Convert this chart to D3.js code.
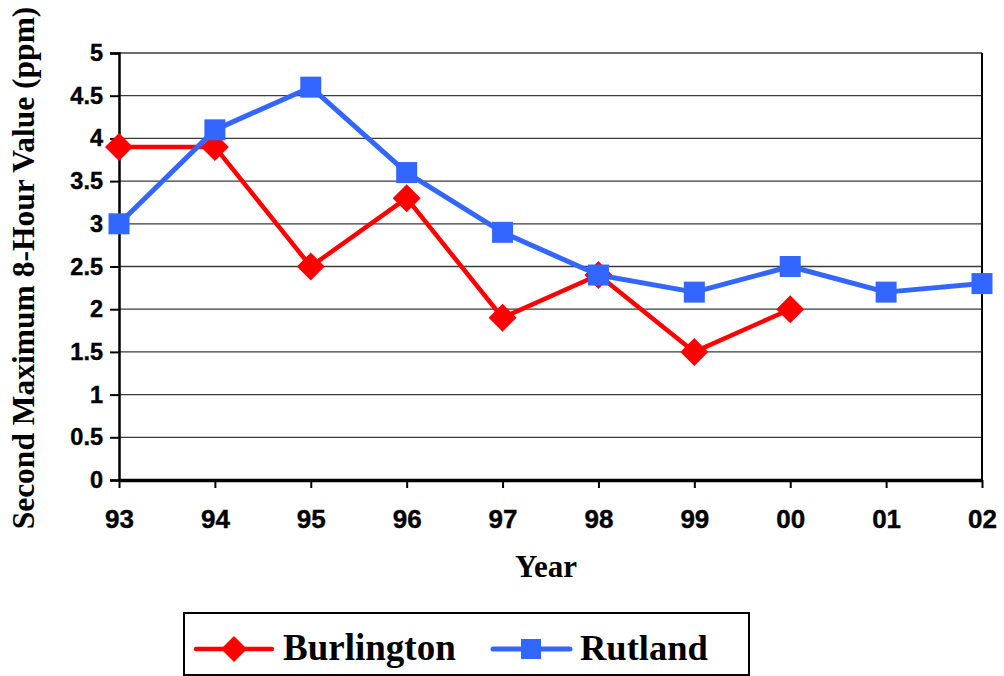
<!DOCTYPE html>
<html><head><meta charset="utf-8">
<script src="https://cdn.jsdelivr.net/npm/d3@7"></script>
<style>body{margin:0;background:#fff}svg{display:block}</style>
</head><body>
<svg id="c" width="1004" height="676"></svg>
<script>
const years = ["93","94","95","96","97","98","99","00","01","02"];
const burlington = [3.9,3.9,2.5,3.3,1.9,2.4,1.5,2.0];
const rutland = [3.0,4.1,4.6,3.6,2.9,2.4,2.2,2.5,2.2,2.3];
const yTicks = [0,0.5,1,1.5,2,2.5,3,3.5,4,4.5,5];
const seriesNames = ["Burlington","Rutland"];

const svg = d3.select("#c");
const x = d3.scalePoint().domain(years).range([119, 982]);
const y = d3.scaleLinear().domain([0,5]).range([480, 53]);
const sans = "'Liberation Sans', Arial, sans-serif";
const serif = "'Liberation Serif', 'Times New Roman', serif";

// gridlines
svg.append("g").selectAll("line").data(yTicks.filter(d=>d>0)).join("line")
  .attr("x1", 119).attr("x2", 982)
  .attr("y1", d=>y(d)).attr("y2", d=>y(d))
  .attr("stroke", "#3a3a3a").attr("stroke-width", 1.3);
// right border
svg.append("line").attr("x1",982).attr("x2",982).attr("y1",y(5)).attr("y2",y(0))
  .attr("stroke","#000").attr("stroke-width",2);

// y axis
const ya = svg.append("g").attr("transform","translate(119,0)")
  .call(d3.axisLeft(y).tickValues(yTicks).tickSize(9).tickPadding(7).tickFormat(d=>d));
ya.select(".domain").attr("stroke","#000").attr("stroke-width",2.5);
ya.selectAll(".tick line").attr("stroke","#000").attr("stroke-width",2);
ya.selectAll("text").attr("font-family",sans).attr("font-weight","bold").attr("font-size",23.5)
  .attr("fill","#000").attr("stroke","#000").attr("stroke-width",0.4);

// x axis
const xa = svg.append("g").attr("transform","translate(0,480)")
  .call(d3.axisBottom(x).tickSize(8).tickSizeOuter(0).tickPadding(22));
xa.select(".domain").attr("stroke","#000").attr("stroke-width",3.5);
xa.selectAll(".tick line").attr("stroke","#000").attr("stroke-width",2);
xa.selectAll("text").attr("font-family",sans).attr("font-weight","bold").attr("font-size",26)
  .attr("fill","#000").attr("stroke","#000").attr("stroke-width",0.4);

// titles
svg.append("text").attr("transform","translate(34,268) rotate(-90)")
  .attr("text-anchor","middle").attr("font-family",serif).attr("font-weight","bold")
  .attr("font-size",31.5).text("Second Maximum 8-Hour Value (ppm)");
svg.append("text").attr("x",546).attr("y",577)
  .attr("text-anchor","middle").attr("font-family",serif).attr("font-weight","bold")
  .attr("font-size",31).text("Year");

const line = d3.line().x((d,i)=>x(years[i])).y(d=>y(d));
const red = "#FF0000", blue = "#3366FF";
const diamond = (g, cx, cy, r) => g.append("path")
  .attr("d", `M${cx},${cy-r}L${cx+r},${cy}L${cx},${cy+r}L${cx-r},${cy}Z`).attr("fill", red);

// Burlington
svg.append("path").datum(burlington).attr("d", line).attr("fill","none")
  .attr("stroke", red).attr("stroke-width",4.5).attr("stroke-linejoin","round");
const bg = svg.append("g");
burlington.forEach((v,i)=>diamond(bg, x(years[i]), y(v), 14));

// Rutland
svg.append("path").datum(rutland).attr("d", line).attr("fill","none")
  .attr("stroke", blue).attr("stroke-width",5).attr("stroke-linejoin","round");
svg.append("g").selectAll("rect").data(rutland).join("rect")
  .attr("x",(d,i)=>x(years[i])-10.5).attr("y",d=>y(d)-10.5)
  .attr("width",21).attr("height",21).attr("fill",blue);

// legend
svg.append("rect").attr("x",184).attr("y",613).attr("width",565).attr("height",62)
  .attr("fill","#fff").attr("stroke","#000").attr("stroke-width",2);
const lg = svg.append("g");
lg.append("line").attr("x1",196).attr("x2",272).attr("y1",649).attr("y2",649)
  .attr("stroke",red).attr("stroke-width",4.5).attr("stroke-linecap","round");
diamond(lg, 234, 649, 13);
lg.append("text").attr("x",283).attr("y",660).attr("font-family",serif).attr("font-weight","bold")
  .attr("font-size",37).text(seriesNames[0]);
lg.append("line").attr("x1",493).attr("x2",570).attr("y1",649).attr("y2",649)
  .attr("stroke",blue).attr("stroke-width",5).attr("stroke-linecap","round");
lg.append("rect").attr("x",521).attr("y",639).attr("width",20).attr("height",20).attr("fill",blue);
lg.append("text").attr("x",580).attr("y",660).attr("font-family",serif).attr("font-weight","bold")
  .attr("font-size",36.5).text(seriesNames[1]);
</script>
</body></html>
